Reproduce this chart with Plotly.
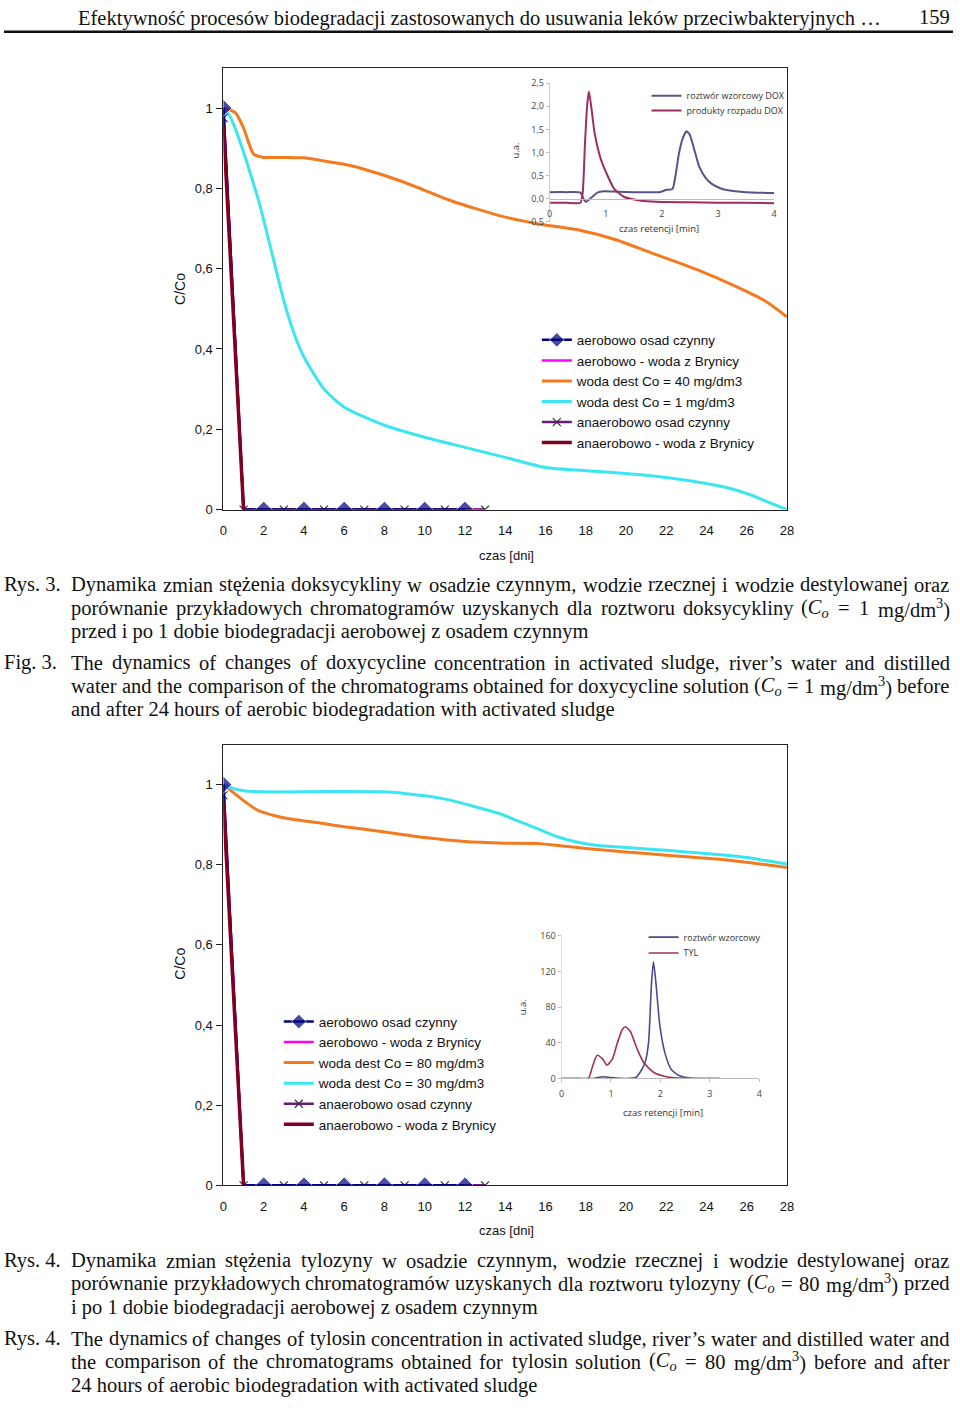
import re
import plotly.graph_objects as go

W, H = 960, 1408


def fx(p):
    return p / W


def fy(p):
    return 1 - p / H


# ---------------- data ----------------
day_ticks = list(range(0, 29, 2))
c_ticks = [0, 0.2, 0.4, 0.6, 0.8, 1.0]
c_ticktext = ["0", "0,2", "0,4", "0,6", "0,8", "1"]

# Fig. 3 (doksycyklina)
f3_aer_osad_x = [0, 1, 2, 4, 6, 8, 10, 12]
f3_aer_osad_y = [1, 0, 0, 0, 0, 0, 0, 0]
f3_aer_bryn_x = [0, 1, 13]
f3_aer_bryn_y = [1, 0, 0]
f3_dest40_x = [0, 0.6, 1.0, 1.5, 2.0, 3.0, 4.0, 5.0, 6.3, 7.5, 8.7, 10.0, 11.2, 12.5, 13.7,
               15.6, 17.6, 19.5, 21.5, 23.5, 25.4, 26.9, 28.0]
f3_dest40_y = [1.0, 0.988, 0.95, 0.885, 0.877, 0.877, 0.876, 0.868, 0.857, 0.84, 0.82, 0.795,
               0.771, 0.75, 0.732, 0.712, 0.697, 0.672, 0.635, 0.598, 0.557, 0.52, 0.48]
f3_dest1_x = [0, 0.25, 0.5, 1.0, 1.5, 1.8, 2.5, 3.0, 3.5, 4.0, 5.0, 6.0, 8.0, 10.0, 12.0, 14.0,
              16.0, 18.0, 20.0, 22.0, 24.0, 25.0, 26.0, 27.0, 28.0]
f3_dest1_y = [1.0, 0.985, 0.96, 0.89, 0.81, 0.76, 0.62, 0.52, 0.44, 0.38, 0.3, 0.255, 0.21, 0.18,
              0.155, 0.13, 0.105, 0.097, 0.09, 0.08, 0.065, 0.055, 0.04, 0.02, 0.0]
f3_anaer_osad_x = [0, 1, 3, 5, 7, 9, 11, 13]
f3_anaer_osad_y = [0.975, 0, 0, 0, 0, 0, 0, 0]
f3_anaer_bryn_x = [0, 1]
f3_anaer_bryn_y = [0.955, 0]

# Fig. 3 inset chromatogram (DOX)
dox_std_t = [0, 0.3, 0.55, 0.6, 0.65, 0.75, 0.85, 0.97, 1.2, 1.5, 1.96, 2.08, 2.19, 2.25, 2.3,
             2.37, 2.44, 2.5, 2.58, 2.66, 2.78, 2.89, 3.05, 3.18, 3.5, 4.0]
dox_std_v = [0.14, 0.14, 0.13, 0.0, -0.07, 0.03, 0.13, 0.16, 0.15, 0.14, 0.14, 0.19, 0.21, 0.55,
             0.95, 1.3, 1.46, 1.38, 1.05, 0.71, 0.45, 0.32, 0.22, 0.18, 0.14, 0.12]
dox_prod_t = [0, 0.3, 0.55, 0.59, 0.63, 0.67, 0.70, 0.74, 0.80, 0.91, 1.03, 1.15, 1.32, 1.61, 1.9,
              2.5, 3.0, 3.5, 4.0]
dox_prod_v = [-0.09, -0.09, -0.09, 0.14, 1.21, 2.05, 2.32, 2.0, 1.43, 0.86, 0.5, 0.21, 0.04, -0.04,
              -0.07, -0.08, -0.09, -0.09, -0.1]

# Fig. 4 (tylozyna)
f4_aer_osad_x = [0, 1, 2, 4, 6, 8, 10, 12]
f4_aer_osad_y = [1, 0, 0, 0, 0, 0, 0, 0]
f4_aer_bryn_x = [0, 1, 13]
f4_aer_bryn_y = [1, 0, 0]
f4_dest80_x = [0, 0.5, 1.0, 1.7, 2.5, 3.5, 4.8, 6.0, 8.0, 10.0, 12.0, 14.0, 15.6, 17.0, 19.0,
               21.0, 23.0, 25.0, 27.0, 28.0]
f4_dest80_y = [1.0, 0.98, 0.96, 0.936, 0.923, 0.913, 0.904, 0.895, 0.882, 0.868, 0.858, 0.854,
               0.853, 0.846, 0.836, 0.828, 0.82, 0.812, 0.8, 0.793]
f4_dest30_x = [0, 0.5, 1.0, 2.0, 4.0, 6.0, 8.0, 9.0, 10.0, 11.2, 12.5, 13.7, 14.6, 15.6, 16.6,
               17.6, 18.6, 20.0, 22.0, 24.0, 26.0, 27.0, 28.0]
f4_dest30_y = [1.0, 0.99, 0.985, 0.982, 0.982, 0.983, 0.982, 0.978, 0.972, 0.962, 0.945, 0.928,
               0.91, 0.89, 0.87, 0.856, 0.848, 0.843, 0.836, 0.828, 0.818, 0.81, 0.802]
f4_anaer_osad_x = [0, 1, 3, 5, 7, 9, 11, 13]
f4_anaer_osad_y = [0.973, 0, 0, 0, 0, 0, 0, 0]
f4_anaer_bryn_x = [0, 1]
f4_anaer_bryn_y = [0.955, 0]

# Fig. 4 inset chromatogram (TYL)
tyl_std_t = [0, 0.3, 0.65, 0.83, 1.0, 1.3, 1.5, 1.59, 1.69, 1.76, 1.82, 1.86, 1.91, 1.99, 2.09,
             2.22, 2.39, 2.59, 2.8, 3.2]
tyl_std_v = [0, 0, 0, 2, 1, 0, 1, 7, 18, 40, 107, 131, 107, 59, 29, 10, 3, 0.5, 0, 0]
tyl_prod_t = [0, 0.3, 0.54, 0.63, 0.72, 0.83, 0.92, 1.03, 1.13, 1.23, 1.29, 1.39, 1.53, 1.66,
              1.86, 2.12, 2.45, 2.8, 3.2]
tyl_prod_v = [0, 0, 0, 14, 26, 22, 15, 22, 40, 55, 58, 53, 33, 18, 7, 2, 0.3, 0, 0]

inset_ticks_x = [0, 1, 2, 3, 4]
dox_ticks = [-0.5, 0, 0.5, 1.0, 1.5, 2.0, 2.5]
dox_ticktext = ["-0,5", "0,0", "0,5", "1,0", "1,5", "2,0", "2,5"]
tyl_ticks = [0, 40, 80, 120, 160]

main_names = {
    "aer_osad": "aerobowo osad czynny",
    "aer_bryn": "aerobowo - woda z Brynicy",
    "anaer_osad": "anaerobowo osad czynny",
    "anaer_bryn": "anaerobowo - woda z Brynicy",
}

header = "Efektywność procesów biodegradacji zastosowanych do usuwania leków przeciwbakteryjnych …"
page_no = "159"
cap3_pl = [
    "Dynamika zmian stężenia doksycykliny w osadzie czynnym, wodzie rzecznej i wodzie destylowanej oraz",
    "porównanie przykładowych chromatogramów uzyskanych dla roztworu doksycykliny (<i>C<sub>o</sub></i> = 1 mg/dm<sup>3</sup>)",
    "przed i po 1 dobie biodegradacji aerobowej z osadem czynnym",
]
cap3_en = [
    "The dynamics of changes of doxycycline concentration in activated sludge, river’s water and distilled",
    "water and the comparison of the chromatograms obtained for doxycycline solution (<i>C<sub>o</sub></i> = 1 mg/dm<sup>3</sup>) before",
    "and after 24 hours of aerobic biodegradation with activated sludge",
]
cap4_pl = [
    "Dynamika zmian stężenia tylozyny w osadzie czynnym, wodzie rzecznej i wodzie destylowanej oraz",
    "porównanie przykładowych chromatogramów uzyskanych dla roztworu tylozyny (<i>C<sub>o</sub></i> = 80 mg/dm<sup>3</sup>) przed",
    "i po 1 dobie biodegradacji aerobowej z osadem czynnym",
]
cap4_en = [
    "The dynamics of changes of tylosin concentration in activated sludge, river’s water and distilled water and",
    "the comparison of the chromatograms obtained for tylosin solution (<i>C<sub>o</sub></i> = 80 mg/dm<sup>3</sup>) before and after",
    "24 hours of aerobic biodegradation with activated sludge",
]

# ---------------- styles ----------------
NAVY = "#000080"
MAGENTA = "#ff00ff"
ORANGE = "#f47a20"
CYAN = "#3ce6f0"
PURPLE = "#6a1a7a"
MAROON = "#800020"
SANS = "Liberation Sans"
SERIF = "Liberation Serif"
INSET_FONT = "Open Sans"

fig = go.Figure()


def add_main(xa, ya, leg, d):
    # drawing order: orange, cyan, magenta, purple x, navy diamonds, maroon
    fig.add_trace(go.Scatter(x=d["dest_hi_x"], y=d["dest_hi_y"], mode="lines", name=d["dest_hi_name"],
                             line=dict(color=ORANGE, width=3, shape="spline", smoothing=0.6),
                             xaxis=xa, yaxis=ya, legend=leg, legendrank=3))
    fig.add_trace(go.Scatter(x=d["dest_lo_x"], y=d["dest_lo_y"], mode="lines", name=d["dest_lo_name"],
                             line=dict(color=CYAN, width=3, shape="spline", smoothing=0.6),
                             xaxis=xa, yaxis=ya, legend=leg, legendrank=4))
    fig.add_trace(go.Scatter(x=d["aer_bryn_x"], y=d["aer_bryn_y"], mode="lines", name=main_names["aer_bryn"],
                             line=dict(color=MAGENTA, width=2.5),
                             xaxis=xa, yaxis=ya, legend=leg, legendrank=2))
    fig.add_trace(go.Scatter(x=d["anaer_osad_x"], y=d["anaer_osad_y"], mode="lines+markers",
                             name=main_names["anaer_osad"],
                             line=dict(color=PURPLE, width=2.5),
                             marker=dict(symbol="x-thin", size=8, line=dict(width=1.2, color="#303040")),
                             xaxis=xa, yaxis=ya, legend=leg, legendrank=5))
    sizes = [13 if v != 1 else 0 for v in d["aer_osad_x"]]
    fig.add_trace(go.Scatter(x=d["aer_osad_x"], y=d["aer_osad_y"], mode="lines+markers",
                             name=main_names["aer_osad"],
                             line=dict(color=NAVY, width=2.5),
                             marker=dict(symbol="diamond", size=sizes, color=NAVY),
                             xaxis=xa, yaxis=ya, legend=leg, legendrank=1))
    fig.add_trace(go.Scatter(x=d["anaer_bryn_x"], y=d["anaer_bryn_y"], mode="lines",
                             name=main_names["anaer_bryn"],
                             line=dict(color=MAROON, width=3.5),
                             xaxis=xa, yaxis=ya, legend=leg, legendrank=6))


add_main("x", "y", "legend", dict(
    dest_hi_x=f3_dest40_x, dest_hi_y=f3_dest40_y, dest_hi_name="woda dest Co = 40 mg/dm3",
    dest_lo_x=f3_dest1_x, dest_lo_y=f3_dest1_y, dest_lo_name="woda dest Co = 1 mg/dm3",
    aer_bryn_x=f3_aer_bryn_x, aer_bryn_y=f3_aer_bryn_y,
    anaer_osad_x=f3_anaer_osad_x, anaer_osad_y=f3_anaer_osad_y,
    aer_osad_x=f3_aer_osad_x, aer_osad_y=f3_aer_osad_y,
    anaer_bryn_x=f3_anaer_bryn_x, anaer_bryn_y=f3_anaer_bryn_y))

add_main("x2", "y2", "legend2", dict(
    dest_hi_x=f4_dest80_x, dest_hi_y=f4_dest80_y, dest_hi_name="woda dest Co = 80 mg/dm3",
    dest_lo_x=f4_dest30_x, dest_lo_y=f4_dest30_y, dest_lo_name="woda dest Co = 30 mg/dm3",
    aer_bryn_x=f4_aer_bryn_x, aer_bryn_y=f4_aer_bryn_y,
    anaer_osad_x=f4_anaer_osad_x, anaer_osad_y=f4_anaer_osad_y,
    aer_osad_x=f4_aer_osad_x, aer_osad_y=f4_aer_osad_y,
    anaer_bryn_x=f4_anaer_bryn_x, anaer_bryn_y=f4_anaer_bryn_y))

# insets (each legend entry gets its own one-item legend for tight row spacing)
INSET_BLUE = "#55558c"
INSET_RED = "#a02d5f"
fig.add_trace(go.Scatter(x=dox_std_t, y=dox_std_v, mode="lines", name="roztwór wzorcowy DOX",
                         line=dict(color=INSET_BLUE, width=2, shape="spline", smoothing=0.5),
                         xaxis="x3", yaxis="y3", legend="legend3"))
fig.add_trace(go.Scatter(x=dox_prod_t, y=dox_prod_v, mode="lines", name="produkty rozpadu DOX",
                         line=dict(color=INSET_RED, width=2, shape="spline", smoothing=0.5),
                         xaxis="x3", yaxis="y3", legend="legend5"))
fig.add_trace(go.Scatter(x=tyl_std_t, y=tyl_std_v, mode="lines", name="roztwór wzorcowy",
                         line=dict(color="#4a4a90", width=1.6, shape="spline", smoothing=0.6),
                         xaxis="x4", yaxis="y4", legend="legend4"))
fig.add_trace(go.Scatter(x=tyl_prod_t, y=tyl_prod_v, mode="lines", name="TYL",
                         line=dict(color="#a03058", width=1.6, shape="spline", smoothing=0.6),
                         xaxis="x4", yaxis="y4", legend="legend6"))

main_tick_font = dict(family=SANS, size=13, color="#111")
inset_tick_font = dict(family=INSET_FONT, size=9, color="#444")


def main_x(domain, anchor):
    return dict(domain=domain, range=[0, 28], tickvals=day_ticks, ticks="", showgrid=False,
                zeroline=False, showline=True, linecolor="#222", linewidth=1, mirror=True,
                tickfont=main_tick_font, ticklabelstandoff=9, anchor=anchor, fixedrange=True)


def main_y(domain, anchor):
    return dict(domain=domain, range=[0, 1.1], tickvals=c_ticks, ticktext=c_ticktext,
                ticks="outside", ticklen=6, tickcolor="#222", showgrid=False, zeroline=False,
                showline=True, linecolor="#222", linewidth=1, mirror=True,
                tickfont=main_tick_font, ticklabelstandoff=1, anchor=anchor, fixedrange=True)


def small_legend(x, top):
    return dict(x=fx(x), y=fy(top), xanchor="left", yanchor="top", bgcolor="rgba(0,0,0,0)",
                font=dict(family=INSET_FONT, size=9, color="#333"), itemwidth=30, tracegroupgap=0)


layout = dict(
    width=W, height=H, margin=dict(l=0, r=0, t=0, b=0),
    paper_bgcolor="white", plot_bgcolor="rgba(0,0,0,0)", showlegend=True,
    xaxis=main_x([fx(222), fx(792)], "y"),
    yaxis=main_y([fy(508), fy(61.5)], "x"),
    xaxis2=main_x([fx(222), fx(792)], "y2"),
    yaxis2=main_y([fy(1191), fy(745.5)], "x2"),
    xaxis3=dict(domain=[fx(552), fx(779)], range=[0, 4], tickvals=inset_ticks_x, anchor="free",
                position=fy(194), showline=True, linecolor="#bbbbbb", linewidth=1, ticks="",
                showgrid=False, zeroline=False, tickfont=inset_tick_font, ticklabelstandoff=6),
    yaxis3=dict(domain=[fy(217), fy(77)], range=[-0.5, 2.5], tickvals=dox_ticks, ticktext=dox_ticktext,
                anchor="x3", showline=True, linecolor="#cccccc", linewidth=1, ticks="outside",
                ticklen=3, tickcolor="#bbbbbb", showgrid=False, zeroline=False, tickfont=inset_tick_font),
    xaxis4=dict(domain=[fx(564), fx(764)], range=[0, 4], tickvals=inset_ticks_x, anchor="y4",
                showline=True, linecolor="#bbbbbb", linewidth=1, ticks="outside", ticklen=3,
                tickcolor="#bbbbbb", showgrid=False, zeroline=False, tickfont=inset_tick_font,
                ticklabelstandoff=4),
    yaxis4=dict(domain=[fy(1083), fy(939)], range=[0, 160], tickvals=tyl_ticks, anchor="x4",
                showline=True, linecolor="#dddddd", linewidth=1, ticks="outside", ticklen=3,
                tickcolor="#bbbbbb", showgrid=False, zeroline=False, tickfont=inset_tick_font),
    legend=dict(x=fx(539), y=fy(321), xanchor="left", yanchor="top", bgcolor="rgba(0,0,0,0)",
                font=dict(family=SANS, size=13.5, color="#111"), itemwidth=30, tracegroupgap=0,
                traceorder="normal"),
    legend2=dict(x=fx(278), y=fy(1010), xanchor="left", yanchor="top", bgcolor="rgba(0,0,0,0)",
                 font=dict(family=SANS, size=13.5, color="#111"), itemwidth=30, tracegroupgap=0,
                 traceorder="normal"),
    legend3=small_legend(650, 75),
    legend5=small_legend(650, 90),
    legend4=small_legend(647, 925.5),
    legend6=small_legend(647, 941.5),
)
fig.update_layout(**layout)

ann = []


def text(x, y, s, size, family=SERIF, anchor="left", angle=0, color="#111"):
    ann.append(dict(x=fx(x), y=fy(y), xref="paper", yref="paper", text=s, showarrow=False,
                    xanchor=anchor, yanchor="middle", textangle=angle,
                    font=dict(family=family, size=size, color=color)))


# header
text(481, 12, header, 20.5, anchor="center")
text(959, 10, page_no, 20.5, anchor="right")

# axis titles
text(178, 285, "C/Co", 14, family=SANS, anchor="center", angle=-90)
text(508, 554, "czas [dni]", 13, family=SANS, anchor="center")
text(178, 967, "C/Co", 14, family=SANS, anchor="center", angle=-90)
text(508, 1237, "czas [dni]", 13, family=SANS, anchor="center")
text(517, 145, "u.a.", 9.5, family=INSET_FONT, anchor="center", angle=-90, color="#333")
text(663, 224, "czas retencji [min]", 9.5, family=INSET_FONT, anchor="center", color="#333")
text(524, 1011, "u.a.", 9.5, family=INSET_FONT, anchor="center", angle=-90, color="#333")
text(667, 1117, "czas retencji [min]", 9.5, family=INSET_FONT, anchor="center", color="#333")

# ---------- captions (justified like the printed page) ----------
# Liberation Serif is metric-compatible with Times; advance widths per 1000 em
TW = {" ": 250, "(": 333, ")": 333, ",": 250, "-": 333, ".": 250, "/": 278, "=": 564, "’": 333,
      ":": 278, "…": 1000}
TW.update({d: 500 for d in "0123456789"})
TW.update(dict(zip("ABCDEFGHIJKLMNOPQRSTUVWXYZ",
                   [722, 667, 667, 722, 611, 556, 722, 722, 333, 389, 722, 611, 889, 722, 722,
                    556, 722, 667, 556, 611, 722, 722, 944, 722, 722, 611])))
TW.update(dict(zip("abcdefghijklmnopqrstuvwxyz",
                   [444, 500, 444, 500, 444, 333, 500, 500, 278, 278, 500, 278, 778, 500, 500,
                    500, 500, 333, 389, 278, 500, 500, 722, 500, 500, 444])))
TW.update({"ą": 444, "ć": 444, "ę": 444, "ł": 278, "ń": 500, "ó": 500, "ś": 389, "ź": 444, "ż": 444})


def word_width(w, size):
    total = 0.0
    scale = 1.0
    for tok in re.split(r"(<[^>]+>)", w):
        if tok.startswith("<"):
            if tok in ("<sub>", "<sup>"):
                scale = 0.7
            elif tok in ("</sub>", "</sup>"):
                scale = 1.0
            continue
        for ch in tok:
            total += TW.get(ch, 500) * scale
    return total * size / 1000.0


CAP = 20.5
LEFT, RIGHT = 68, 956


def caption(label, lines, y0, dy):
    text(-2, y0, label, CAP)
    for i, s in enumerate(lines):
        y = y0 + i * dy
        if i == len(lines) - 1:
            text(LEFT - 2, y, s, CAP)
            continue
        words = s.split(" ")
        widths = [word_width(w, CAP) for w in words]
        gap = (RIGHT - LEFT - sum(widths)) / (len(words) - 1)
        xpos = LEFT
        for w, wd in zip(words, widths):
            text(xpos - 2, y, w, CAP)
            xpos += wd + gap


caption("Rys. 3.", cap3_pl, 584, 23.7)
caption("Fig. 3.", cap3_en, 663, 23.7)
caption("Rys. 4.", cap4_pl, 1267, 23.5)
caption("Rys. 4.", cap4_en, 1346, 23.5)

fig.update_layout(annotations=ann)
fig.add_shape(type="line", xref="paper", yref="paper", x0=0, x1=1, y0=fy(25), y1=fy(25),
              line=dict(color="#111", width=2.5))

page_css = (
    "document.documentElement.style.margin='0';"
    "document.documentElement.style.overflow='hidden';"
    "document.body.style.margin='0';"
    "document.body.style.overflow='hidden';"
    "var gd=document.getElementById('{plot_id}');"
    "gd.style.position='absolute';gd.style.left='0px';gd.style.top='0px';"
)

fig.write_html("out.html", config={"displayModeBar": False}, post_script=page_css)
